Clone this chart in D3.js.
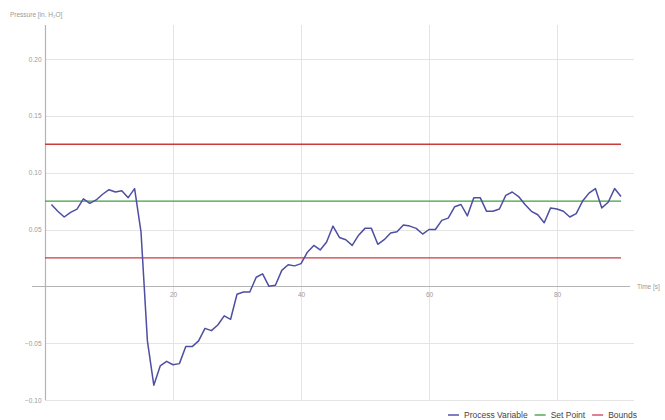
<!DOCTYPE html>
<html>
<head>
<meta charset="utf-8">
<script src="https://cdn.jsdelivr.net/npm/d3@7/dist/d3.min.js"></script>
<style>
  html, body { margin: 0; padding: 0; background: #fff; }
  svg { display: block; font-family: "Liberation Sans", Arial, sans-serif; }
</style>
</head>
<body>
<svg id="chart" width="665" height="420"></svg>
<script>
// Sample times (seconds)
const times = [1,2,3,4,5,6,7,8,9,10,11,12,13,14,15,16,17,18,19,20,
  21,22,23,24,25,26,27,28,29,30,31,32,33,34,35,36,37,38,39,40,
  41,42,43,44,45,46,47,48,49,50,51,52,53,54,55,56,57,58,59,60,
  61,62,63,64,65,66,67,68,69,70,71,72,73,74,75,76,77,78,79,80,
  81,82,83,84,85,86,87,88,89,90];

// Measured pressure (in. H2O)
const processVariable = [0.072,0.066,0.061,0.065,0.068,0.077,0.073,0.076,0.081,0.085,
  0.083,0.084,0.078,0.086,0.048,-0.048,-0.087,-0.070,-0.066,-0.069,
  -0.068,-0.053,-0.053,-0.048,-0.037,-0.039,-0.034,-0.026,-0.029,-0.007,
  -0.005,-0.005,0.008,0.011,0.000,0.001,0.014,0.019,0.018,0.020,
  0.030,0.036,0.032,0.039,0.053,0.043,0.041,0.036,0.045,0.051,
  0.051,0.037,0.041,0.047,0.048,0.054,0.053,0.051,0.046,0.050,
  0.050,0.058,0.060,0.070,0.072,0.062,0.078,0.078,0.066,0.066,
  0.068,0.080,0.083,0.079,0.072,0.066,0.063,0.056,0.069,0.068,
  0.066,0.061,0.064,0.075,0.082,0.086,0.069,0.074,0.086,0.079];

const setPoint = 0.075;
const bounds = [0.025, 0.125];
const refSpan = [0, 90];

const xTicks = [20, 40, 60, 80];
const yTicks = [-0.10, -0.05, 0.05, 0.10, 0.15, 0.20];
const yGrid = [-0.10, -0.05, 0, 0.05, 0.10, 0.15, 0.20];

const legendItems = [
  { label: "Process Variable", color: "#7f7fc0" },
  { label: "Set Point", color: "#7fbf7f" },
  { label: "Bounds", color: "#e07f8f" }
];

const svg = d3.select("#chart");

const x = d3.scaleLinear().domain([0, 92]).range([45, 633.8]);
const y = d3.scaleLinear().domain([-0.10, 0.20]).range([400, 59]);
const plotTop = 25;

// Grid
const grid = svg.append("g").attr("stroke", "#e4e4e4").attr("stroke-width", 1);
grid.selectAll("line.h").data(yGrid.filter(v => v !== 0)).join("line")
  .attr("x1", x(0)).attr("x2", x(92))
  .attr("y1", d => Math.round(y(d)) + 0.5).attr("y2", d => Math.round(y(d)) + 0.5);
grid.selectAll("line.v").data(xTicks).join("line")
  .attr("x1", d => Math.round(x(d)) + 0.5).attr("x2", d => Math.round(x(d)) + 0.5)
  .attr("y1", plotTop).attr("y2", y(-0.10));

// Axes
const xAxis = d3.axisBottom(x).tickValues(xTicks).tickSize(0).tickPadding(6)
  .tickFormat(d3.format("d"));
const gx = svg.append("g").attr("transform", `translate(0,${Math.round(y(0)) + 0.5})`).call(xAxis);
gx.select(".domain").remove();
gx.append("line").attr("x1", 32).attr("x2", 630).attr("stroke", "#b4b4b4").attr("stroke-width", 1.2);
gx.selectAll(".tick text").attr("fill", "#999").attr("font-size", 6.5)
  .attr("font-family", "'Liberation Sans', Arial, sans-serif");

const yAxis = d3.axisLeft(y).tickValues(yTicks).tickSize(0).tickPadding(4)
  .tickFormat(d3.format(".2f"));
const gy = svg.append("g").attr("transform", `translate(${Math.round(x(0)) + 0.5},0)`).call(yAxis);
gy.select(".domain").remove();
gy.append("line").attr("y1", plotTop).attr("y2", y(-0.10)).attr("stroke", "#b4b4b4").attr("stroke-width", 1.2);
gy.selectAll(".tick text").attr("fill", "#999").attr("font-size", 6.5)
  .attr("font-family", "'Liberation Sans', Arial, sans-serif")
  .text(d => d3.format(".2f")(d).replace("-", "\u2212"));

// Axis titles
svg.append("text").attr("x", 10).attr("y", 17).attr("fill", "#999").attr("font-size", 6.5)
  .text("Pressure [in. H\u2082O]");
svg.append("text").attr("x", 637).attr("y", y(0) + 2.5).attr("fill", "#999").attr("font-size", 6.5)
  .text("Time [s]");

// Reference lines
const refLine = d3.line().x(d => x(d[0])).y(d => y(d[1]));
bounds.forEach(b => {
  svg.append("path").attr("d", refLine(refSpan.map(t => [t, b])))
    .attr("fill", "none").attr("stroke", "#cc3b3b").attr("stroke-width", 1.3);
});
svg.append("path").attr("d", refLine(refSpan.map(t => [t, setPoint])))
  .attr("fill", "none").attr("stroke", "#3f9f3f").attr("stroke-width", 1.3);

// Process variable
const pvLine = d3.line().x((d, i) => x(times[i])).y(d => y(d));
svg.append("path").attr("d", pvLine(processVariable))
  .attr("fill", "none").attr("stroke", "#4e4ea2").attr("stroke-width", 1.5)
  .attr("stroke-linejoin", "round");

// Legend
const legend = svg.append("g").attr("transform", "translate(448,415)");
let lx = 0;
legendItems.forEach(item => {
  legend.append("line").attr("x1", lx).attr("x2", lx + 11).attr("y1", 0).attr("y2", 0)
    .attr("stroke", item.color).attr("stroke-width", 2);
  const t = legend.append("text").attr("x", lx + 16).attr("y", 3)
    .attr("fill", "#444").attr("font-size", 8.5).text(item.label);
  lx += 16 + t.node().getComputedTextLength() + 7;
});
</script>
</body>
</html>
